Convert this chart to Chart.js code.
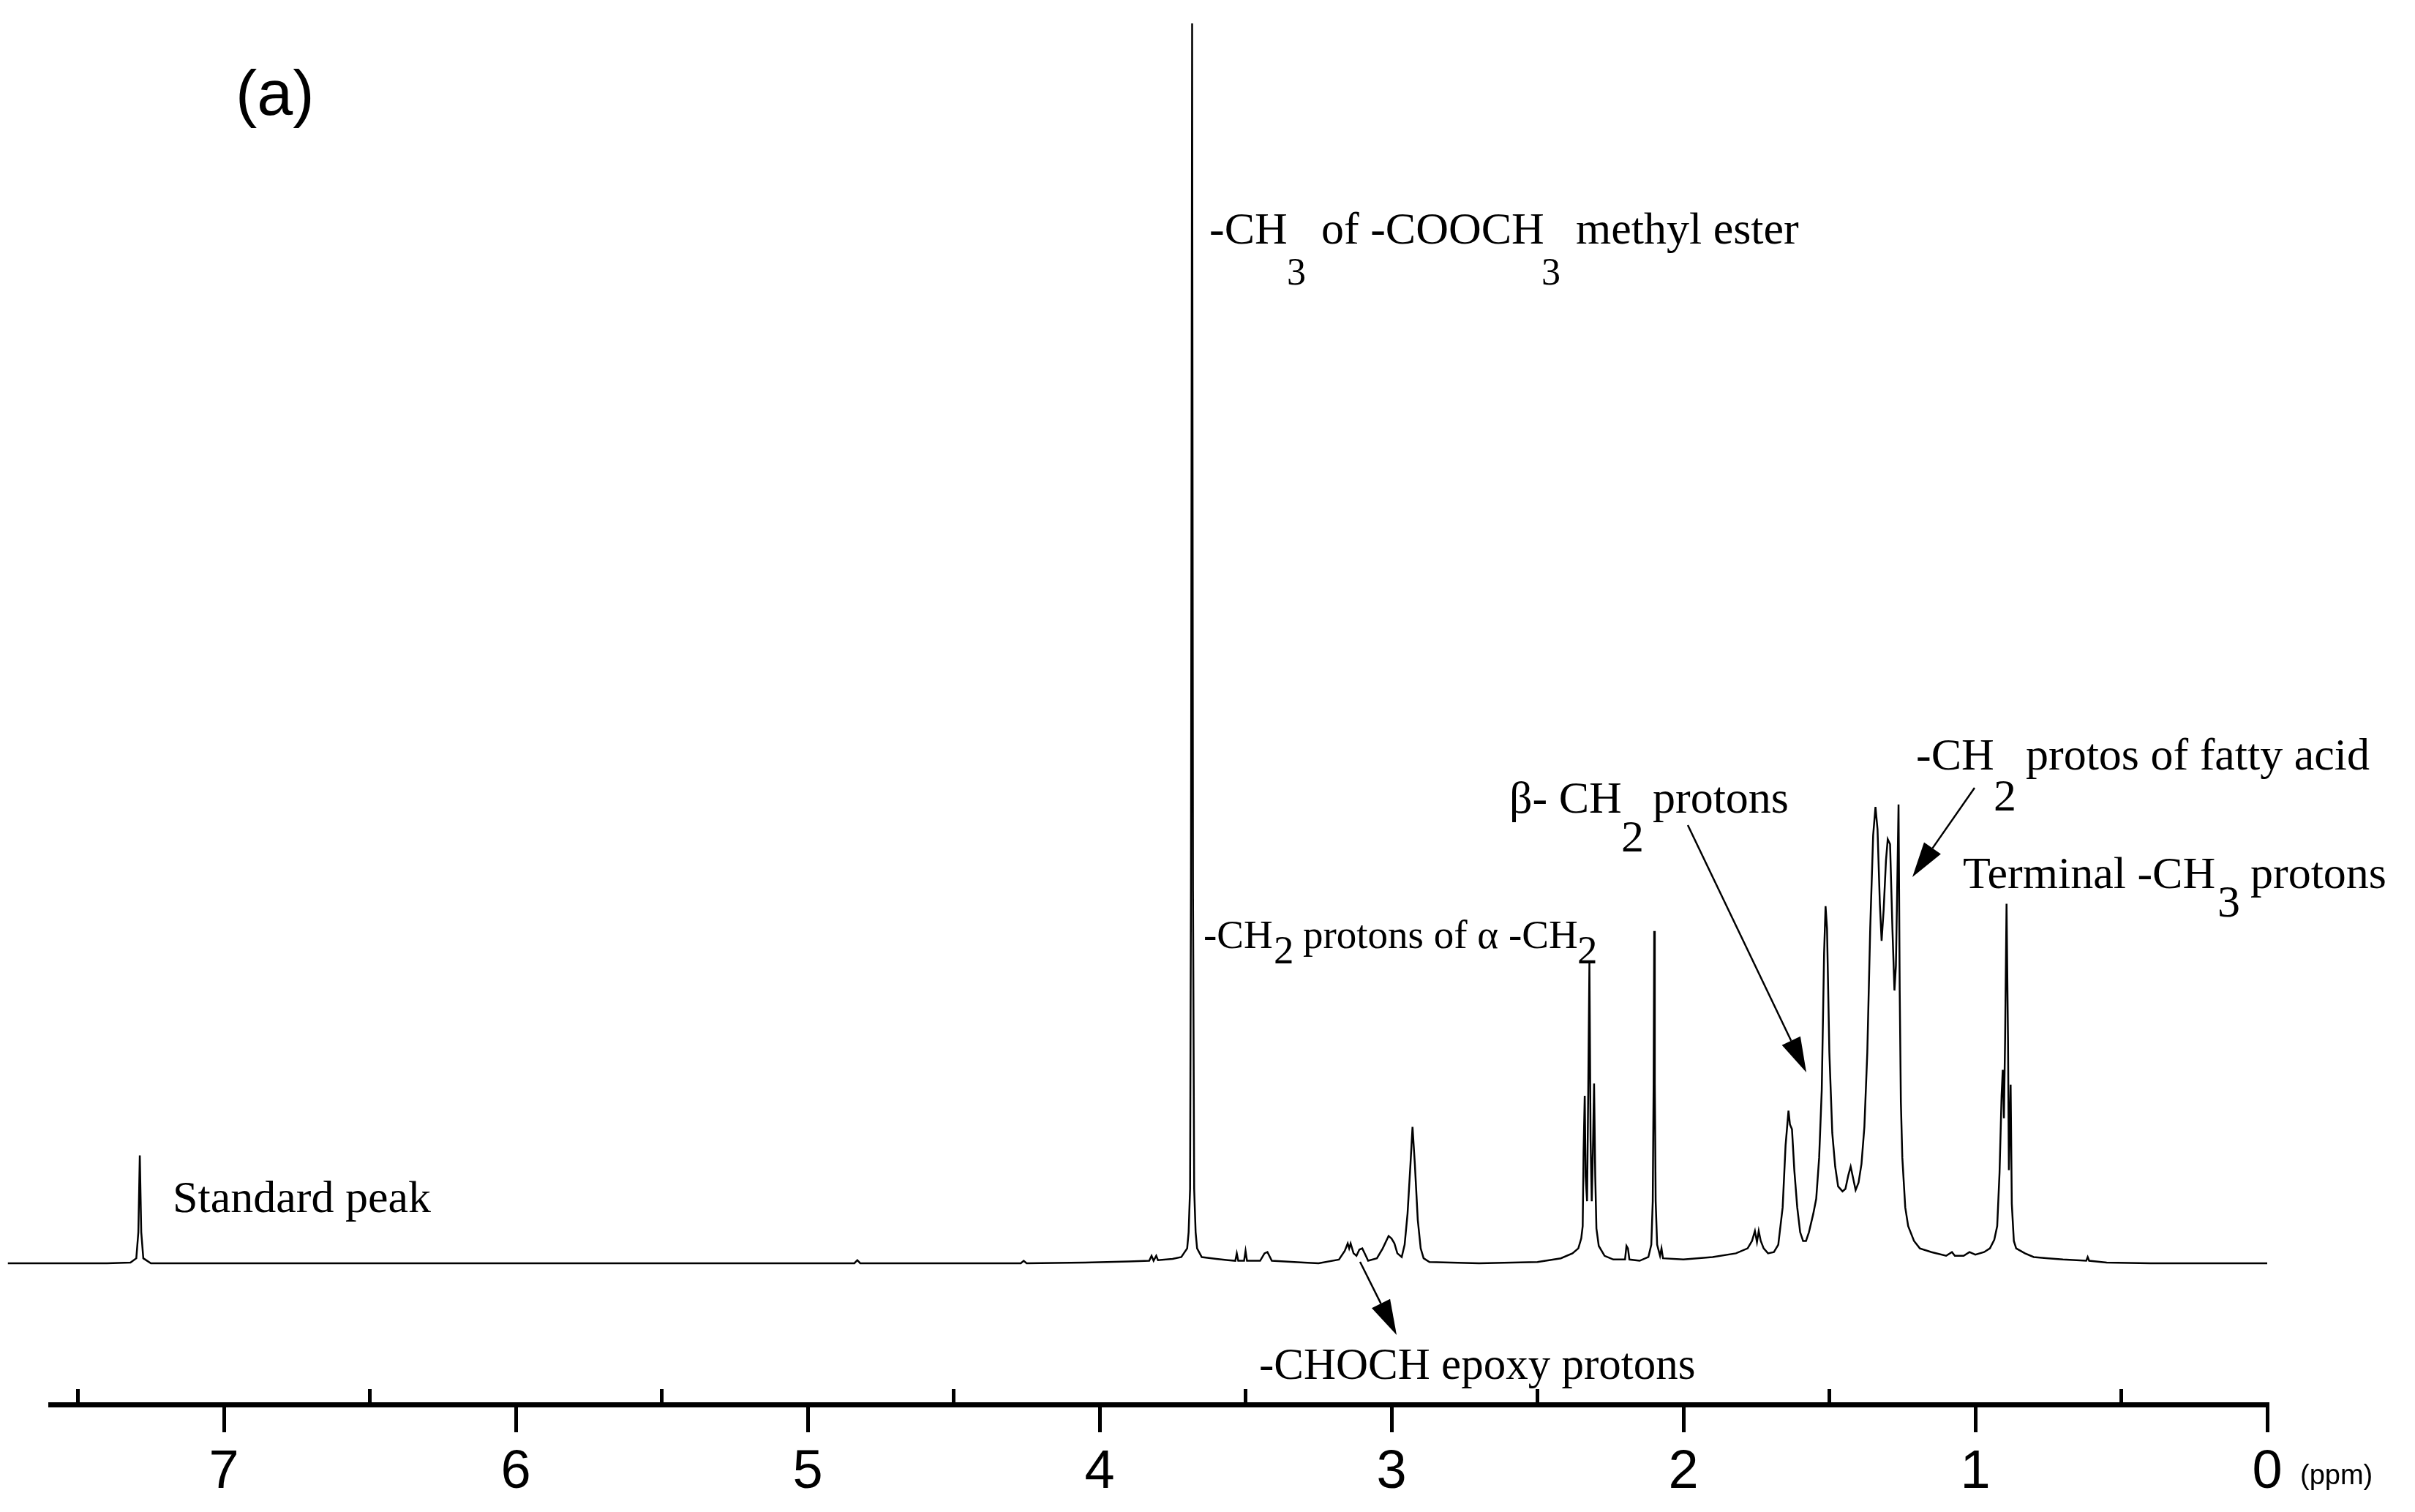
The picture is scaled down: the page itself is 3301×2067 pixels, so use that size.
<!DOCTYPE html>
<html>
<head>
<meta charset="utf-8">
<script src="https://cdn.jsdelivr.net/npm/chart.js@4.4.1/dist/chart.umd.min.js"></script>
<style>
  html, body { margin: 0; padding: 0; background: #ffffff; }
  #wrap { width: 3301px; height: 2067px; }
</style>
</head>
<body>
<div id="wrap"><canvas id="c" width="3301" height="2067"></canvas></div>
<script>
// ---- Data: 1H NMR spectrum (chemical shift in ppm, relative intensity) ----
const ppm = [
  7.74, 7.40, 7.32, 7.30, 7.293, 7.288, 7.283, 7.276, 7.25, 7.18,
  6.80, 5.50, 4.84, 4.83, 4.82, 4.27, 4.26, 4.25, 4.05, 3.90,
  3.83, 3.822, 3.815, 3.806, 3.80, 3.75, 3.72, 3.70, 3.695, 3.690,
  3.687, 3.683, 3.680, 3.676, 3.671, 3.666, 3.65, 3.60, 3.56, 3.535,
  3.53, 3.525, 3.505, 3.50, 3.495, 3.45, 3.435, 3.425, 3.41, 3.30,
  3.25, 3.18, 3.16, 3.15, 3.145, 3.14, 3.13, 3.12, 3.11, 3.10,
  3.09, 3.08, 3.05, 3.03, 3.01, 3.00, 2.99, 2.98, 2.965, 2.955,
  2.945, 2.935, 2.928, 2.92, 2.91, 2.90, 2.89, 2.87, 2.70, 2.50,
  2.42, 2.38, 2.36, 2.35, 2.345, 2.342, 2.338, 2.335, 2.330, 2.326,
  2.322, 2.318, 2.314, 2.310, 2.306, 2.302, 2.298, 2.29, 2.27, 2.24,
  2.20, 2.195, 2.19, 2.185, 2.15, 2.12, 2.11, 2.105, 2.102, 2.100,
  2.098, 2.095, 2.09, 2.08, 2.075, 2.07, 2.00, 1.90, 1.82, 1.78,
  1.765, 1.755, 1.748, 1.742, 1.735, 1.725, 1.71, 1.69, 1.675, 1.66,
  1.65, 1.64, 1.635, 1.628, 1.62, 1.61, 1.60, 1.59, 1.58, 1.57,
  1.555, 1.545, 1.535, 1.526, 1.518, 1.513, 1.508, 1.50, 1.49, 1.48,
  1.47, 1.455, 1.445, 1.435, 1.427, 1.418, 1.41, 1.40, 1.39, 1.38,
  1.37, 1.36, 1.35, 1.342, 1.335, 1.327, 1.321, 1.314, 1.306, 1.300,
  1.292, 1.284, 1.277, 1.272, 1.267, 1.263, 1.259, 1.255, 1.25, 1.24,
  1.23, 1.21, 1.19, 1.15, 1.10, 1.08, 1.07, 1.04, 1.02, 1.00,
  0.97, 0.95, 0.935, 0.925, 0.917, 0.91, 0.906, 0.902, 0.898, 0.893,
  0.888, 0.885, 0.882, 0.879, 0.875, 0.868, 0.86, 0.83, 0.80, 0.75,
  0.70, 0.62, 0.615, 0.61, 0.55, 0.40, 0.20, 0.00
];
const intensity = [
  0.0, 0.0, 0.05, 0.4, 2.5, 8.7, 2.5, 0.4, 0.0, 0.0,
  0.0, 0.0, 0.0, 0.25, 0.0, 0.0, 0.2, 0.0, 0.05, 0.15,
  0.2, 0.6, 0.2, 0.6, 0.25, 0.35, 0.5, 1.2, 2.5, 6.0,
  30, 100, 30, 6.0, 2.5, 1.2, 0.5, 0.35, 0.25, 0.2,
  0.8, 0.2, 0.2, 1.0, 0.2, 0.2, 0.8, 0.9, 0.2, 0.05,
  0.0, 0.3, 1.0, 1.6, 1.2, 1.6, 0.8, 0.6, 1.1, 1.2,
  0.7, 0.2, 0.4, 1.2, 2.2, 2.0, 1.6, 0.8, 0.5, 1.5,
  4.0, 8.0, 11.0, 8.0, 3.5, 1.2, 0.4, 0.1, 0.0, 0.1,
  0.4, 0.8, 1.2, 2.0, 3.0, 9.0, 13.5, 7.0, 5.0, 14.0,
  24.2, 10.0, 5.0, 9.0, 14.5, 7.0, 2.8, 1.4, 0.6, 0.3,
  0.3, 1.4, 1.2, 0.3, 0.2, 0.5, 1.5, 5.0, 14.5, 26.8,
  14.5, 5.0, 1.5, 0.6, 1.2, 0.4, 0.3, 0.5, 0.8, 1.2,
  1.8, 2.6, 1.7, 2.6, 1.8, 1.2, 0.8, 0.9, 1.5, 4.5,
  9.5, 12.3, 11.2, 10.8, 7.5, 4.5, 2.5, 1.8, 1.8, 2.5,
  4.0, 5.2, 8.5, 14.0, 25.0, 28.8, 27.0, 17.0, 10.5, 7.8,
  6.2, 5.8, 6.0, 7.1, 7.8, 6.8, 5.9, 6.5, 8.0, 11.0,
  17.0, 27.0, 34.5, 36.8, 35.0, 29.0, 26.0, 28.5, 32.5, 34.2,
  33.8, 27.0, 22.0, 24.0, 31.0, 37.0, 22.0, 13.0, 8.5, 4.5,
  3.0, 1.8, 1.2, 0.9, 0.6, 0.9, 0.6, 0.6, 0.9, 0.7,
  0.9, 1.2, 1.9, 3.0, 7.3, 13.5, 15.6, 11.7, 18.0, 29.0,
  18.0, 7.5, 11.0, 14.4, 4.8, 1.8, 1.2, 0.8, 0.5, 0.4,
  0.3, 0.2, 0.5, 0.2, 0.05, 0.0, 0.0, 0.0
];
const majorTicks = [0, 1, 2, 3, 4, 5, 6, 7];
const minorTicks = [0.5, 1.5, 2.5, 3.5, 4.5, 5.5, 6.5, 7.5];
const axisUnit = '(ppm)';
const panelLabel = '(a)';

// ---- Annotation plugin: minor ticks, unit, labels, arrows ----
const SERIF = '"Liberation Serif", "Times New Roman", serif';
const SANS = '"Liberation Sans", Arial, sans-serif';

function seg(ctx, text, x, y, size, font) {
  ctx.font = size + 'px ' + (font || SERIF);
  ctx.fillText(text, x, y);
}
function arrow(ctx, x1, y1, x2, y2) {
  const ang = Math.atan2(y2 - y1, x2 - x1);
  const L = 48, W = 14;
  const bx = x2 - L * Math.cos(ang), by = y2 - L * Math.sin(ang);
  ctx.beginPath();
  ctx.moveTo(x1, y1);
  ctx.lineTo(bx, by);
  ctx.lineWidth = 2.5;
  ctx.strokeStyle = '#000';
  ctx.stroke();
  ctx.beginPath();
  ctx.moveTo(x2, y2);
  ctx.lineTo(bx + W * Math.sin(ang), by - W * Math.cos(ang));
  ctx.lineTo(bx - W * Math.sin(ang), by + W * Math.cos(ang));
  ctx.closePath();
  ctx.fillStyle = '#000';
  ctx.fill();
}

const annot = {
  id: 'annot',
  afterDraw(chart) {
    const ctx = chart.ctx;
    const xs = chart.scales.x;
    const bottom = chart.chartArea.bottom;
    ctx.save();
    // minor ticks (upward)
    ctx.strokeStyle = '#000';
    ctx.lineWidth = 5;
    minorTicks.forEach(v => {
      const px = xs.getPixelForValue(v);
      ctx.beginPath();
      ctx.moveTo(px, bottom);
      ctx.lineTo(px, bottom - 21);
      ctx.stroke();
    });
    ctx.fillStyle = '#000';
    ctx.textBaseline = 'alphabetic';
    ctx.textAlign = 'left';
    // unit label
    seg(ctx, axisUnit, xs.getPixelForValue(0) + 45, 2029, 38, SANS);
    // panel label
    seg(ctx, panelLabel, 322, 157, 88, SANS);
    // labels
    seg(ctx, 'Standard peak', 236, 1657, 62);
    // -CH3 of -COOCH3 methyl ester
    seg(ctx, '-CH', 1653, 333, 62);
    seg(ctx, '3', 1759, 389, 52);
    seg(ctx, 'of -COOCH', 1806, 333, 62);
    seg(ctx, '3', 2107, 389, 52);
    seg(ctx, 'methyl ester', 2154, 333, 62);
    // -CH2 protons of α -CH2
    seg(ctx, '-CH', 1645, 1296, 55);
    seg(ctx, '2', 1741, 1317, 55);
    seg(ctx, 'protons of \u03B1 -CH', 1781, 1296, 55);
    seg(ctx, '2', 2156, 1317, 55);
    // -CHOCH epoxy protons
    seg(ctx, '-CHOCH epoxy protons', 1721, 1885, 61);
    // β- CH2 protons
    seg(ctx, '\u03B2- CH', 2063, 1111, 62);
    seg(ctx, '2', 2216, 1164, 62);
    seg(ctx, 'protons', 2259, 1111, 62);
    // -CH2 protos of fatty acid
    seg(ctx, '-CH', 2619, 1052, 62);
    seg(ctx, '2', 2725, 1108, 62);
    seg(ctx, 'protos of fatty acid', 2769, 1052, 62);
    // Terminal -CH3 protons
    seg(ctx, 'Terminal -CH', 2683, 1214, 62);
    seg(ctx, '3', 3031, 1253, 62);
    seg(ctx, 'protons', 3076, 1214, 62);
    // arrows
    arrow(ctx, 2307, 1128, 2469, 1466);
    arrow(ctx, 2699, 1077, 2614, 1199);
    arrow(ctx, 1859, 1725, 1909, 1825);
    ctx.restore();
  }
};

const chart = new Chart(document.getElementById('c').getContext('2d'), {
  type: 'line',
  data: {
    datasets: [{
      data: ppm.map((x, i) => ({ x: x, y: intensity[i] })),
      borderColor: '#000',
      borderWidth: 2.5,
      pointRadius: 0,
      fill: false,
      tension: 0,
      clip: false
    }]
  },
  options: {
    responsive: false,
    animation: false,
    devicePixelRatio: 1,
    layout: { padding: { left: 69, right: 202, top: 32, bottom: 0 } },
    plugins: { legend: { display: false }, tooltip: { enabled: false } },
    scales: {
      x: {
        type: 'linear',
        reverse: true,
        min: 0,
        max: 7.594,
        afterFit(scale) { scale.height = 147; },
        afterBuildTicks(scale) { scale.ticks = majorTicks.map(v => ({ value: v })); },
        border: { display: true, color: '#000', width: 7 },
        grid: {
          display: true, drawOnChartArea: false, drawTicks: true,
          tickLength: 38, tickWidth: 5, tickColor: '#000', color: '#000', lineWidth: 5
        },
        ticks: {
          stepSize: 1, includeBounds: false, autoSkip: false, maxRotation: 0, minRotation: 0,
          padding: 11, color: '#000',
          font: { family: 'Liberation Sans', size: 74 },
          callback: v => String(v)
        }
      },
      y: { display: false, min: -11.39, max: 100 }
    }
  },
  plugins: [annot]
});
</script>
</body>
</html>
